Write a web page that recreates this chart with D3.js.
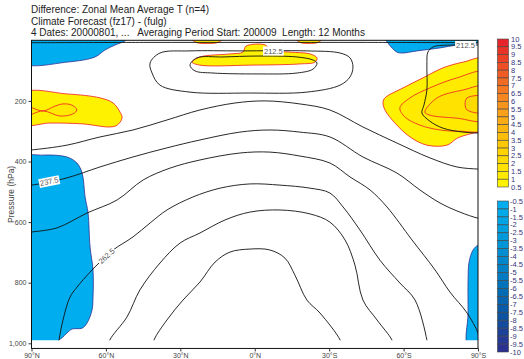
<!DOCTYPE html>
<html>
<head>
<meta charset="utf-8">
<script src="https://cdn.jsdelivr.net/npm/d3@7"></script>
<style>
body { margin: 0; background: #fff; }
text { font-family: "Liberation Sans", Arial, sans-serif; }
</style>
</head>
<body>
<div id="chart"></div>
<script>
// ---- data ----
const titleLines = [
    "Difference: Zonal Mean Average T (n=4)",
    "Climate Forecast (fz17) - (fulg)",
    "4 Dates: 20000801, ...   Averaging Period Start: 200009  Length: 12 Months"
];
const latTicks = [90, 60, 30, 0, -30, -60, -90];
const latTickLabels = ["90°N", "60°N", "30°N", "0°N", "30°S", "60°S", "90°S"];
const pressureTicks = [200, 400, 600, 800, 1000];
const warmLevels = [10, 9.5, 9, 8.5, 8, 7.5, 7, 6.5, 6, 5.5, 5, 4.5, 4, 3.5, 3, 2.5, 2, 1.5, 1, 0.5];
const coldLevels = [-0.5, -1, -1.5, -2, -2.5, -3, -3.5, -4, -4.5, -5, -5.5, -6, -6.5, -7, -7.5, -8, -8.5, -9, -9.5, -10];

// filled difference regions, points are [latitude, pressure hPa]
const coldTopLeft = [[93,-10],[93,75],[75.7,72],[64.4,55],[60.4,32],[56.3,15.5],[52.3,2],[51,-10]];
const coldTopRight = [[-52.5,-10],[-53.7,9],[-57.3,39],[-59.3,42],[-65.4,35],[-74.7,25],[-81.5,15.5],[-90,9],[-93,8],[-93,-10]];
const coldLowLeft = [[93,389],[85.4,379],[75.7,385],[71.7,405],[69.6,438],[68.4,517],[67.2,570],[66.4,682],[65.2,758],[65.2,848],[65.6,890],[67.6,933],[69.6,950],[73.7,953],[75.7,966],[77.7,982],[79.3,992],[80,1010],[93,1010]];
const coldLowRight = [[-93,670],[-90,676],[-88,692],[-86.4,732],[-86,791],[-86,900],[-86,1010],[-93,1010]];
const warmBlipA = [[25.5,-5],[23.7,7],[19.3,10.5],[14.8,7],[13,-5]];
const warmBlipB = [[-16.5,-5],[-18.2,7],[-21.9,10.5],[-25.5,7],[-27.2,-5]];
const warmCentre = [[25.3,72],[22.1,55],[10,45],[4.8,39],[3.5,19],[-4.5,16],[-5.7,32],[-14.2,39],[-22.3,45],[-25.1,58],[-24.3,72],[-18.2,78],[2,82],[22.1,82]];
const warmLeft = [[93,174],[75.7,177],[62.4,190],[57.1,207],[54.3,237],[53.5,257],[55.5,280],[58.4,286],[69.2,276],[82.5,273],[93,276]];
const warmLeft1 = [[93,217],[85.4,233],[80.5,217],[77.3,210],[73.7,214],[71.7,230],[73.3,243],[78.5,250],[85.4,233],[93,250]];
const warmRight = [[-93,62],[-84,72],[-75.9,91],[-67.8,124],[-59.8,157],[-52.5,190],[-51.7,204],[-52.5,230],[-56.5,273],[-62.6,319],[-69.4,346],[-77.5,346],[-81.9,322],[-90,303],[-93,300]];
const warmRight1 = [[-93,106],[-81.5,124],[-70.6,157],[-62.6,190],[-58.5,223],[-60.5,253],[-66.6,280],[-74.7,296],[-82.7,300],[-93,293]];
const warmRight2 = [[-93,153],[-84,164],[-73.5,190],[-68.6,237],[-70.6,247],[-81.5,257],[-93,263]];
const warmRight3 = [[-93,187],[-85.6,190],[-84.8,210],[-85.6,230],[-93,237]];

// climatology temperature contours (K)
const lineTop = [[93,8],[45,7],[0,7],[-45,7],[-93,8]];
const line212Right = [[-93,15.5],[-90,15.5],[-79.9,15.5],[-71.9,22],[-69.8,39],[-69.4,82],[-69.4,164],[-68.2,214],[-67.4,240],[-70.6,267],[-75.9,290],[-84,303],[-90,306],[-93,307]];
const loop212 = [[42.2,75],[38.2,42],[26.1,35],[6,35],[-21,35],[-34.4,42],[-38.4,58],[-39.6,88],[-38.4,121],[-34.4,148],[-21,171],[2,174],[26.1,171],[38.2,148],[41.4,108]];
const loop200 = [[26.1,82],[23.3,58],[12.8,55],[-0.9,52],[-17,55],[-23.5,65],[-25.1,75],[-23.5,95],[-17,108],[-0.9,111],[16.8,108],[24.1,101]];
const line225 = [[93,364],[90,362],[75.7,346],[62.4,319],[49.1,296],[35.4,263],[22.1,230],[8,207],[-4.1,200],[-18.2,210],[-30.3,230],[-43.6,286],[-57.3,339],[-70.6,388],[-81.5,418],[-90,425],[-93,426]];
const line237 = [[93,479],[90,478],[75.7,454],[62.4,418],[49.1,385],[35.4,355],[22.1,329],[6,303],[-6.1,296],[-18.2,303],[-30.3,319],[-43.6,385],[-57.3,438],[-66.6,494],[-74.7,537],[-82.7,567],[-90,587],[-93,590]];
const line250 = [[93,638],[90,633],[79.7,619],[67.6,570],[55.5,527],[45,461],[34.2,422],[22.1,395],[6,372],[-6.1,369],[-18.2,382],[-30.3,405],[-38.4,451],[-46.5,494],[-53.3,550],[-63.4,659],[-72.7,758],[-78.7,831],[-85.6,900],[-90,966],[-91,1000]];
const line262 = [[79.2,1010],[78.9,989],[77.3,923],[74.5,848],[71.7,815],[66.4,765],[62.4,732],[57.1,692],[49.1,649],[42.2,603],[35.4,560],[24.9,517],[14,488],[2,474],[-10.2,478],[-22.3,488],[-30.3,504],[-35.6,550],[-42.4,626],[-50.5,726],[-58.5,801],[-64.6,857],[-69.4,989],[-69.7,1010]];
const line275 = [[58.8,1010],[58.4,989],[51.5,913],[46.3,824],[38.2,735],[30.1,669],[22.1,636],[12,593],[2,567],[-10.2,560],[-22.3,573],[-30.3,600],[-36.4,659],[-40.4,742],[-43.6,857],[-49.3,923],[-55.3,989],[-56,1010]];
const line287 = [[41,1010],[40.6,989],[35.4,923],[28.9,857],[22.1,798],[16,732],[10,699],[2,689],[-6.1,692],[-12.2,719],[-16.2,775],[-21,857],[-26.3,900],[-34.4,989],[-35,1010]];

// ---- scales ----
var xScale = d3.scaleLinear().domain([90, -90]).range([31.5, 478]);
var yScale = d3.scaleLinear().domain([0, 1000]).range([40.3, 343.3]);
var cbWarm = d3.scaleLinear().domain([10, 0.5]).range([39, 187]);
var cbCold = d3.scaleLinear().domain([-0.5, -10]).range([201, 352]);

var warmColor = d3.scaleLinear()
    .domain([0.5, 2.5, 5, 7, 9.5])
    .range(["#fff200", "#ffd200", "#f9a11b", "#f26b22", "#e8252a"]);
var coldColor = d3.scaleLinear()
    .domain([-0.5, -3, -5.5, -7.5, -9.5])
    .range(["#00aeef", "#0095d6", "#0073bb", "#0d53a0", "#2b3190"]);

var fills = [
    {pts: coldTopLeft, c: coldColor(-0.5), s: "#2e3192"},
    {pts: coldTopRight, c: coldColor(-0.5), s: "#2e3192"},
    {pts: coldLowLeft, c: coldColor(-0.5), s: "#2e3192"},
    {pts: coldLowRight, c: coldColor(-0.5), s: "#2e3192"},
    {pts: warmBlipA, c: warmColor(0.5), s: "#ee1c25"},
    {pts: warmBlipB, c: warmColor(0.5), s: "#ee1c25"},
    {pts: warmCentre, c: warmColor(0.5), s: "#ee1c25"},
    {pts: warmLeft, c: warmColor(0.5), s: "#ee1c25"},
    {pts: warmLeft1, c: warmColor(1), s: "#ee1c25"},
    {pts: warmRight, c: warmColor(0.5), s: "#ee1c25"},
    {pts: warmRight1, c: warmColor(1), s: "#ee1c25"},
    {pts: warmRight2, c: warmColor(1.5), s: "#ee1c25"},
    {pts: warmRight3, c: warmColor(2), s: "#ee1c25"}
];

var contours = [
    {pts: lineTop, closed: false},
    {pts: line212Right, closed: false, label: "212.5", seg: 1},
    {pts: loop212, closed: true, label: "212.5", seg: 3},
    {pts: loop200, closed: true},
    {pts: line225, closed: false},
    {pts: line237, closed: false, label: "237.5", seg: 1},
    {pts: line250, closed: false},
    {pts: line262, closed: false, label: "262.5", seg: 6},
    {pts: line275, closed: false},
    {pts: line287, closed: false}
];

// ---- canvas ----
var svg = d3.select("#chart")
    .append("svg")
        .attr("width", 524)
        .attr("height", 359);

svg.append("rect").attr("width", 524).attr("height", 359).attr("fill", "#fff");

// title
svg.selectAll(".title")
    .data(titleLines)
    .enter().append("text")
    .attr("class", "title")
    .attr("x", 31)
    .attr("y", (d, i) => 13 + i * 11.7)
    .style("font-size", "10px")
    .style("fill", "#222")
    .style("white-space", "pre")
    .text(d => d);

svg.append("defs").append("clipPath")
    .attr("id", "plotclip")
    .append("rect")
        .attr("x", xScale(90))
        .attr("y", yScale(0))
        .attr("width", xScale(-90) - xScale(90))
        .attr("height", yScale(990) - yScale(0));

var plot = svg.append("g").attr("clip-path", "url(#plotclip)");

var area = d3.line()
    .x(d => xScale(d[0]))
    .y(d => yScale(d[1]))
    .curve(d3.curveCatmullRomClosed.alpha(0.5));
var openLine = d3.line()
    .x(d => xScale(d[0]))
    .y(d => yScale(d[1]))
    .curve(d3.curveCatmullRom.alpha(0.5));

// filled regions
plot.selectAll(".fill")
    .data(fills)
    .enter().append("path")
    .attr("class", "fill")
    .attr("d", d => area(d.pts))
    .attr("fill", d => d.c)
    .attr("stroke", d => d.s)
    .attr("stroke-width", 0.8);

// black contours
plot.selectAll(".cont")
    .data(contours)
    .enter().append("path")
    .attr("class", "cont")
    .attr("d", d => d.closed ? area(d.pts) : openLine(d.pts))
    .attr("fill", "none")
    .attr("stroke", "#111")
    .attr("stroke-width", 0.9);

// contour labels
contours.filter(d => d.label).forEach(function(d) {
    var a = d.pts[d.seg], b = d.pts[d.seg + 1];
    var x0 = xScale(a[0]), y0 = yScale(a[1]), x1 = xScale(b[0]), y1 = yScale(b[1]);
    var ang = Math.atan2(y1 - y0, x1 - x0) * 180 / Math.PI;
    if (ang > 90) ang -= 180;
    if (ang < -90) ang += 180;
    var lg = plot.append("g")
        .attr("transform", "translate(" + ((x0 + x1) / 2) + "," + ((y0 + y1) / 2) + ") rotate(" + ang + ")");
    var bg = lg.append("rect").attr("fill", "#fff");
    var t = lg.append("text")
        .attr("text-anchor", "middle")
        .attr("dy", "0.35em")
        .style("font-size", "7.5px")
        .style("fill", "#555")
        .text(d.label);
    var bb = t.node().getBBox();
    bg.attr("x", bb.x - 1).attr("y", bb.y).attr("width", bb.width + 2).attr("height", bb.height);
});

// frame
svg.append("rect")
    .attr("x", xScale(90))
    .attr("y", yScale(0))
    .attr("width", xScale(-90) - xScale(90))
    .attr("height", yScale(1017) - yScale(0))
    .attr("fill", "none")
    .attr("stroke", "#111")
    .attr("stroke-width", 1);

// Y axis
const yAxis = d3.axisLeft(yScale).tickValues(pressureTicks).tickSize(3).tickPadding(2);
svg.append("g")
    .attr("transform", `translate(${xScale(90)},0)`)
    .call(yAxis)
    .call(g => g.select(".domain").remove())
    .call(g => g.selectAll("text").style("font-size", "7px").style("fill", "#444").style("font-family", "Liberation Sans, Arial, sans-serif"))
    .call(g => g.selectAll("line").attr("stroke", "#333"));

// X axis
const xAxis = d3.axisBottom(xScale).tickValues(latTicks)
    .tickFormat((d, i) => latTickLabels[i]).tickSize(3).tickPadding(2);
svg.append("g")
    .attr("transform", `translate(0,${yScale(1017)})`)
    .call(xAxis)
    .call(g => g.select(".domain").remove())
    .call(g => g.selectAll("text").style("font-size", "7px").style("fill", "#444").style("font-family", "Liberation Sans, Arial, sans-serif"))
    .call(g => g.selectAll("line").attr("stroke", "#333"));

// Y axis label
svg.append("text")
    .attr("transform", "translate(14," + ((yScale(0) + yScale(1017)) / 2) + ") rotate(-90)")
    .attr("text-anchor", "middle")
    .style("font-size", "8.5px")
    .style("fill", "#444")
    .text("Pressure (hPa)");

// colour bars
var cb = svg.append("g");
cb.selectAll(".wcell")
    .data(warmLevels.slice(1))
    .enter().append("rect")
    .attr("x", 497.5)
    .attr("width", 11)
    .attr("y", (d, i) => cbWarm(warmLevels[i]))
    .attr("height", (d, i) => cbWarm(d) - cbWarm(warmLevels[i]))
    .attr("fill", d => warmColor(d))
    .attr("stroke", "#444")
    .attr("stroke-width", 0.6);
cb.selectAll(".ccell")
    .data(coldLevels.slice(0, -1))
    .enter().append("rect")
    .attr("x", 497.5)
    .attr("width", 11)
    .attr("y", d => cbCold(d))
    .attr("height", (d, i) => cbCold(coldLevels[i + 1]) - cbCold(d))
    .attr("fill", d => coldColor(d))
    .attr("stroke", "#444")
    .attr("stroke-width", 0.6);

cb.selectAll(".wlab")
    .data(warmLevels)
    .enter().append("text")
    .attr("x", 511)
    .attr("y", d => cbWarm(d))
    .attr("dy", "0.35em")
    .style("font-size", "7.5px")
    .style("fill", "#35357a")
    .text(d => d);
cb.selectAll(".clab")
    .data(coldLevels)
    .enter().append("text")
    .attr("x", 510)
    .attr("y", d => cbCold(d))
    .attr("dy", "0.35em")
    .style("font-size", "7.5px")
    .style("fill", "#35357a")
    .text(d => d);
</script>
</body>
</html>
